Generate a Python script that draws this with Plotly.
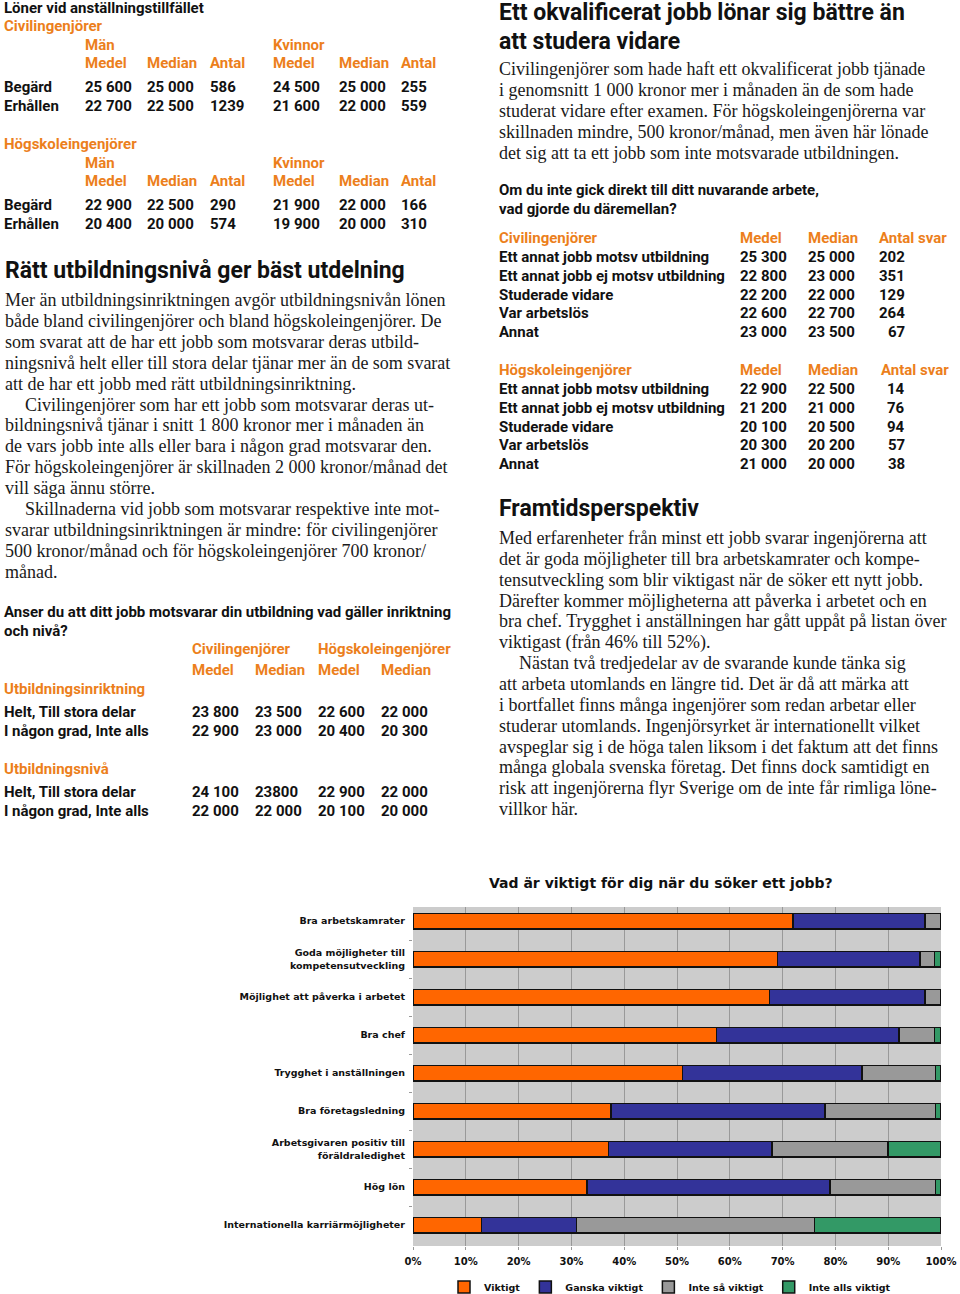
import plotly.graph_objects as go

W, H = 960, 1294

# ---------------- chart data ----------------
chart_title = "Vad är viktigt för dig när du söker ett jobb?"
categories = [
    "Bra arbetskamrater",
    "Goda möjligheter till<br>kompetensutveckling",
    "Möjlighet att påverka i arbetet",
    "Bra chef",
    "Trygghet i anställningen",
    "Bra företagsledning",
    "Arbetsgivaren positiv till<br>föräldraledighet",
    "Hög lön",
    "Internationella karriärmöjligheter",
]
series_names = ["Viktigt", "Ganska viktigt", "Inte så viktigt", "Inte alls viktigt"]
viktigt = [72, 69, 67.5, 57.5, 51, 37.5, 37, 33, 13]
ganska_viktigt = [25, 27, 29.5, 34.5, 34, 40.5, 31, 46, 18]
inte_sa_viktigt = [3, 2.8, 3, 6.8, 14, 21, 22, 20, 45]
inte_alls_viktigt = [0, 1.2, 0, 1.2, 1, 1, 10, 1, 24]
x_ticks = [0, 10, 20, 30, 40, 50, 60, 70, 80, 90, 100]
x_ticklabels = ["0%", "10%", "20%", "30%", "40%", "50%", "60%", "70%", "80%", "90%", "100%"]

# ---------------- text / table data ----------------
salary_title = "Löner vid anställningstillfället"
salary_groups = ["Civilingenjörer", "Högskoleingenjörer"]
salary_cols = ["Medel", "Median", "Antal", "Medel", "Median", "Antal"]
salary_rows = ["Begärd", "Erhållen"]
salary_civ = [["25 600", "25 000", "586", "24 500", "25 000", "255"],
              ["22 700", "22 500", "1239", "21 600", "22 000", "559"]]
salary_hog = [["22 900", "22 500", "290", "21 900", "22 000", "166"],
              ["20 400", "20 000", "574", "19 900", "20 000", "310"]]

head1 = "Rätt utbildningsnivå ger bäst utdelning"
body1 = [
    ("Mer än utbildningsinriktningen avgör utbildningsnivån lönen", 0),
    ("både bland civilingenjörer och bland högskoleingenjörer. De", 0),
    ("som svarat att de har ett jobb som motsvarar deras utbild-", 0),
    ("ningsnivå helt eller till stora delar tjänar mer än de som svarat", 0),
    ("att de har ett jobb med rätt utbildningsinriktning.", 0),
    ("Civilingenjörer som har ett jobb som motsvarar deras ut-", 1),
    ("bildningsnivå tjänar i snitt 1 800 kronor mer i månaden än", 0),
    ("de vars jobb inte alls eller bara i någon grad motsvarar den.", 0),
    ("För högskoleingenjörer är skillnaden 2 000 kronor/månad det", 0),
    ("vill säga ännu större.", 0),
    ("Skillnaderna vid jobb som motsvarar respektive inte mot-", 1),
    ("svarar utbildningsinriktningen är mindre: för civilingenjörer", 0),
    ("500 kronor/månad och för högskoleingenjörer 700 kronor/", 0),
    ("månad.", 0),
]

q1_lines = ["Anser du att ditt jobb motsvarar din utbildning vad gäller inriktning", "och nivå?"]
q1_groups = ["Civilingenjörer", "Högskoleingenjörer"]
q1_cols = ["Medel", "Median", "Medel", "Median"]
q1_sections = ["Utbildningsinriktning", "Utbildningsnivå"]
q1_rows = ["Helt, Till stora delar", "I någon grad, Inte alls"]
q1_inriktning = [["23 800", "23 500", "22 600", "22 000"],
                 ["22 900", "23 000", "20 400", "20 300"]]
q1_niva = [["24 100", "23800", "22 900", "22 000"],
           ["22 000", "22 000", "20 100", "20 000"]]

head2 = ["Ett okvalificerat jobb lönar sig bättre än", "att studera vidare"]
body2 = [
    "Civilingenjörer som hade haft ett okvalificerat jobb tjänade",
    "i genomsnitt 1 000 kronor mer i månaden än de som hade",
    "studerat vidare efter examen. För högskoleingenjörerna var",
    "skillnaden mindre, 500 kronor/månad, men även här lönade",
    "det sig att ta ett jobb som inte motsvarade utbildningen.",
]
q2_lines = ["Om du inte gick direkt till ditt nuvarande arbete,", "vad gjorde du däremellan?"]
q2_cols = ["Medel", "Median", "Antal svar"]
q2_rows = ["Ett annat jobb motsv utbildning", "Ett annat jobb ej motsv utbildning",
           "Studerade vidare", "Var arbetslös", "Annat"]
q2_civ = [["25 300", "25 000", "202"], ["22 800", "23 000", "351"], ["22 200", "22 000", "129"],
          ["22 600", "22 700", "264"], ["23 000", "23 500", "67"]]
q2_hog = [["22 900", "22 500", "14"], ["21 200", "21 000", "76"], ["20 100", "20 500", "94"],
          ["20 300", "20 200", "57"], ["21 000", "20 000", "38"]]

head3 = "Framtidsperspektiv"
body3 = [
    ("Med erfarenheter från minst ett jobb svarar ingenjörerna att", 0),
    ("det är goda möjligheter till bra arbetskamrater och kompe-", 0),
    ("tensutveckling som blir viktigast när de söker ett nytt jobb.", 0),
    ("Därefter kommer möjligheterna att påverka i arbetet och en", 0),
    ("bra chef. Trygghet i anställningen har gått uppåt på listan över", 0),
    ("viktigast (från 46% till 52%).", 0),
    ("Nästan två tredjedelar av de svarande kunde tänka sig", 1),
    ("att arbeta utomlands en längre tid. Det är då att märka att", 0),
    ("i bortfallet finns många ingenjörer som redan arbetar eller", 0),
    ("studerar utomlands. Ingenjörsyrket är internationellt vilket", 0),
    ("avspeglar sig i de höga talen liksom i det faktum att det finns", 0),
    ("många globala svenska företag. Det finns dock samtidigt en", 0),
    ("risk att ingenjörerna flyr Sverige om de inte får rimliga löne-", 0),
    ("villkor här.", 0),
]

# ---------------- styles ----------------
ORANGE_TXT = "#ec7f1c"
COND = "Roboto, Liberation Sans, sans-serif"
SERIF = "Liberation Serif, DejaVu Serif, serif"
CHARTFONT = "DejaVu Sans, Liberation Sans, sans-serif"
TS = 15     # table text size
HS = 23     # heading size
BS = 18     # body text size

ann = []


def T(x, y, text, size=TS, color="#111111", family=COND, weight="bold", xanchor="left"):
    ann.append(dict(x=x / W, y=1 - y / H, xref="paper", yref="paper", text=text,
                    showarrow=False, xanchor=xanchor, yanchor="middle", borderpad=0,
                    font=dict(size=size, color=color, family=family, weight=weight)))


# Left column: salary table
T(3, 8, salary_title)
tcols = [84, 146, 209, 272, 338, 400]
for gi, (grp, data) in enumerate(zip(salary_groups, [salary_civ, salary_hog])):
    y0 = 26 + gi * 118
    T(3, y0, grp, color=ORANGE_TXT)
    T(tcols[0], y0 + 19, "Män", color=ORANGE_TXT)
    T(tcols[3], y0 + 19, "Kvinnor", color=ORANGE_TXT)
    for cx, c in zip(tcols, salary_cols):
        T(cx, y0 + 37, c, color=ORANGE_TXT)
    for ri, (rname, vals) in enumerate(zip(salary_rows, data)):
        yy = y0 + 61 + ri * 19
        T(3, yy, rname)
        for cx, v in zip(tcols, vals):
            T(cx, yy, v)

T(4, 271, head1, size=HS)
for i, (line, ind) in enumerate(body1):
    T(4 + 20 * ind, 300 + i * 20.9, line, size=BS, family=SERIF, weight="normal", color="#1a1a1a")

T(3, 612, q1_lines[0])
T(3, 631, q1_lines[1])
qcols = [191, 254, 317, 380]
T(qcols[0], 649, q1_groups[0], color=ORANGE_TXT)
T(qcols[2], 649, q1_groups[1], color=ORANGE_TXT)
for cx, c in zip(qcols, q1_cols):
    T(cx, 670, c, color=ORANGE_TXT)
for si, (sec, data) in enumerate(zip(q1_sections, [q1_inriktning, q1_niva])):
    y0 = 689 + si * 80
    T(3, y0, sec, color=ORANGE_TXT)
    for ri, (rname, vals) in enumerate(zip(q1_rows, data)):
        yy = y0 + 23 + ri * 19
        T(3, yy, rname)
        for cx, v in zip(qcols, vals):
            T(cx, yy, v)

# Right column
T(498, 13, head2[0], size=HS)
T(498, 41, head2[1], size=HS)
for i, line in enumerate(body2):
    T(498, 69 + i * 21, line, size=BS, family=SERIF, weight="normal", color="#1a1a1a")
T(498, 190, q2_lines[0])
T(498, 209, q2_lines[1])
for gi, (grp, data) in enumerate(zip(salary_groups, [q2_civ, q2_hog])):
    y0 = 238 + gi * 132
    T(498, y0, grp, color=ORANGE_TXT)
    T(739, y0, q2_cols[0], color=ORANGE_TXT)
    T(807, y0, q2_cols[1], color=ORANGE_TXT)
    T(878 + 2 * gi, y0, q2_cols[2], color=ORANGE_TXT)
    for ri, (rname, vals) in enumerate(zip(q2_rows, data)):
        yy = y0 + 19 + ri * 18.8
        T(498, yy, rname)
        T(739, yy, vals[0])
        T(807, yy, vals[1])
        T(906, yy, vals[2], xanchor="right")

T(498, 508, head3, size=HS)
for i, (line, ind) in enumerate(body3):
    T(498 + 20 * ind, 538 + i * 20.85, line, size=BS, family=SERIF, weight="normal", color="#1a1a1a")

# Chart title
T(661, 883, chart_title, size=14, family=CHARTFONT, xanchor="center")

# ---------------- chart ----------------
colors = ["#ff6600", "#333399", "#999999", "#339966"]
fig = go.Figure()
for name, vals, col in zip(series_names, [viktigt, ganska_viktigt, inte_sa_viktigt, inte_alls_viktigt], colors):
    fig.add_trace(go.Bar(
        y=categories, x=vals, name=name, orientation="h",
        marker=dict(color=col, line=dict(color="#111111", width=1.5)),
        width=0.41, hoverinfo="skip",
    ))

n = len(categories)
fig.update_layout(
    width=W, height=H, autosize=False,
    margin=dict(l=0, r=0, t=0, b=0, pad=0, autoexpand=False),
    paper_bgcolor="white",
    plot_bgcolor="#cccccc",
    barmode="stack",
    annotations=ann,
    showlegend=True,
    legend=dict(orientation="h", x=444 / W, y=1 - 1287 / H, xanchor="left", yanchor="middle",
                font=dict(size=9.5, family=CHARTFONT, weight="bold", color="#111"),
                itemwidth=30, traceorder="normal", bgcolor="rgba(0,0,0,0)"),
    xaxis=dict(domain=[413 / W, 941 / W], range=[0, 100], tickmode="array",
               tickvals=x_ticks, ticktext=x_ticklabels, automargin=False,
               showgrid=True, gridcolor="#999999", gridwidth=1, zeroline=False,
               ticks="outside", ticklen=3, tickcolor="#999999", ticklabelstandoff=3,
               tickfont=dict(size=10, family=CHARTFONT, weight="bold", color="#111"),
               anchor="y", fixedrange=True),
    yaxis=dict(domain=[1 - 1246 / H, 1 - 907 / H], range=[n - 1 + 0.55, -0.37],
               type="category", tickson="boundaries", ticks="outside", ticklen=3,
               tickcolor="#999999", showgrid=False, zeroline=False, automargin=False,
               ticklabelstandoff=7,
               tickfont=dict(size=9.5, family=CHARTFONT, weight="bold", color="#111"),
               anchor="x", fixedrange=True),
)

fig.write_html("out.html", config={"displayModeBar": False, "responsive": False})

# remove the browser's default page margin / scrollbars so paper pixels match the window
with open("out.html", "r", encoding="utf-8") as f:
    html = f.read()
html = html.replace("<head>", "<head><style>html,body{margin:0;padding:0;overflow:hidden;}</style>", 1)
with open("out.html", "w", encoding="utf-8") as f:
    f.write(html)
